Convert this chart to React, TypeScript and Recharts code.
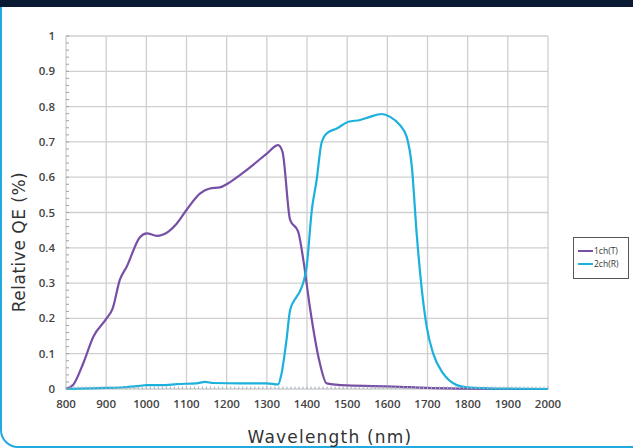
import React from "react";
import {
  LineChart, Line, XAxis, YAxis, CartesianGrid,
} from "recharts";

// 1ch(T) – transmission channel
const tNm = [800, 818, 843, 868, 901, 916, 934, 951, 984, 1001, 1026, 1055, 1076, 1100, 1134, 1158, 1183, 1204, 1233, 1266, 1300, 1328, 1339, 1358, 1378, 1391, 1407, 1432, 1449, 1499, 1615, 1698, 1800, 1900, 2000];
const tQE = [0, 0.012, 0.073, 0.148, 0.2, 0.228, 0.309, 0.346, 0.43, 0.441, 0.434, 0.446, 0.469, 0.507, 0.554, 0.568, 0.571, 0.583, 0.606, 0.635, 0.667, 0.691, 0.672, 0.479, 0.446, 0.365, 0.233, 0.073, 0.016, 0.01, 0.007, 0.003, 0.001, 0, 0];

// 2ch(R) – reflection channel
const rNm = [800, 900, 943, 984, 1001, 1040, 1076, 1125, 1146, 1167, 1233, 1300, 1328, 1336, 1349, 1358, 1374, 1382, 1399, 1412, 1424, 1436, 1449, 1474, 1503, 1532, 1557, 1586, 1607, 1631, 1648, 1661, 1673, 1686, 1698, 1714, 1739, 1773, 1798, 1850, 1900, 2000];
const rQE = [0, 0.003, 0.005, 0.009, 0.011, 0.011, 0.014, 0.016, 0.02, 0.017, 0.016, 0.016, 0.013, 0.04, 0.139, 0.224, 0.261, 0.276, 0.346, 0.507, 0.592, 0.696, 0.724, 0.738, 0.757, 0.762, 0.771, 0.779, 0.771, 0.748, 0.715, 0.63, 0.441, 0.28, 0.176, 0.101, 0.044, 0.011, 0.005, 0.002, 0.001, 0];

const xTicks = [800, 900, 1000, 1100, 1200, 1300, 1400, 1500, 1600, 1700, 1800, 1900, 2000];
const yTicks = [0, 0.1, 0.2, 0.3, 0.4, 0.5, 0.6, 0.7, 0.8, 0.9, 1];
// minor ticks: every 10 nm / every 0.02
const xMinor = Array.from({ length: 121 }, (_, i) => 800 + i * 10);
const yMinor = Array.from({ length: 51 }, (_, i) => +(i * 0.02).toFixed(2));

const PURPLE = "#7750a6";
const CYAN = "#1cb0dc";

const tData = tNm.map((nm, i) => ({ nm, qe: tQE[i] }));
const rData = rNm.map((nm, i) => ({ nm, qe: rQE[i] }));

const labelProps = { fontSize: 11.5, fill: "#444", fontFamily: "Open Sans", fontWeight: 600 };
const titleFont = { fontFamily: "DejaVu Sans", fontSize: 17, color: "#333", whiteSpace: "nowrap" as const };

function XTick(p: any) {
  const v = p.payload.value;
  const major = xTicks.includes(v);
  return (
    <g>
      <line x1={p.x} x2={p.x} y1={p.y} y2={p.y - 2.5} stroke="#a4b2bd" strokeWidth={1} />
      {major && (
        <text x={p.x} y={p.y + 11} dy="0.71em" textAnchor="middle" {...labelProps}>{v}</text>
      )}
    </g>
  );
}

function YTick(p: any) {
  const v = p.payload.value;
  const major = yTicks.some((t) => Math.abs(t - v) < 1e-6);
  return (
    <g>
      <line x1={p.x} x2={p.x + 3} y1={p.y} y2={p.y} stroke="#a0a0a0" strokeWidth={1} />
      {major && (
        <text x={p.x - 11} y={p.y} dy="0.355em" textAnchor="end" {...labelProps}>{v}</text>
      )}
    </g>
  );
}

export default function App() {
  return (
    <div style={{ position: "absolute", left: 0, top: 0, width: 633, height: 448, overflow: "hidden", background: "#fff" }}>
      {/* card frame */}
      <div
        style={{
          position: "absolute", left: 0, top: 4, width: 660, height: 444,
          boxSizing: "border-box", border: "2px solid #22a9e0",
          borderRadius: "0 0 0 18px",
        }}
      />
      <div style={{ position: "absolute", left: 0, top: 0, width: 633, height: 7, background: "#0b1a33" }} />

      <div style={{ position: "absolute", left: 0, top: 0 }}>
        <LineChart width={633} height={448} margin={{ top: 36, right: 85, bottom: 39, left: 36 }}>
          <CartesianGrid
            stroke="#cfcfcf"
            strokeWidth={1.3}
            horizontalValues={yTicks}
            verticalValues={xTicks}
          />
          <XAxis
            type="number"
            dataKey="nm"
            domain={[800, 2000]}
            ticks={xMinor}
            interval={0}
            allowDuplicatedCategory={false}
            axisLine={false}
            tickLine={false}
            tickSize={0}
            tickMargin={0}
            tick={<XTick />}
            height={20}
          />
          <YAxis
            type="number"
            domain={[0, 1]}
            ticks={yMinor}
            interval={0}
            axisLine={false}
            tickLine={false}
            tickSize={0}
            tickMargin={0}
            tick={<YTick />}
            width={30}
          />
          <Line
            data={tData}
            dataKey="qe"
            name="1ch(T)"
            type="monotone"
            stroke={PURPLE}
            strokeWidth={2.2}
            dot={false}
            isAnimationActive={false}
          />
          <Line
            data={rData}
            dataKey="qe"
            name="2ch(R)"
            type="monotone"
            stroke={CYAN}
            strokeWidth={2.2}
            dot={false}
            isAnimationActive={false}
          />
        </LineChart>
      </div>

      {/* legend */}
      <div
        style={{
          position: "absolute", left: 573, top: 237, width: 56, height: 42,
          border: "1px solid #555", boxSizing: "border-box", padding: "6px 0 0 4px",
          fontFamily: "Open Sans", fontSize: 8.5, color: "#333", background: "#fff",
        }}
      >
        {[
          { color: PURPLE, label: "1ch(T)" },
          { color: CYAN, label: "2ch(R)" },
        ].map((l) => (
          <div key={l.label} style={{ display: "flex", alignItems: "center", height: 13 }}>
            <div style={{ width: 15, height: 2, background: l.color, marginRight: 1 }} />
            <span>{l.label}</span>
          </div>
        ))}
      </div>

      <div style={{ ...titleFont, letterSpacing: 0.5, position: "absolute", left: 19, top: 242, transform: "translate(-50%, -50%) rotate(-90deg)" }}>
        Relative QE (%)
      </div>
      <div style={{ ...titleFont, letterSpacing: 1.2, position: "absolute", left: 330, top: 437, transform: "translate(-50%, -50%)" }}>
        Wavelength (nm)
      </div>
    </div>
  );
}
